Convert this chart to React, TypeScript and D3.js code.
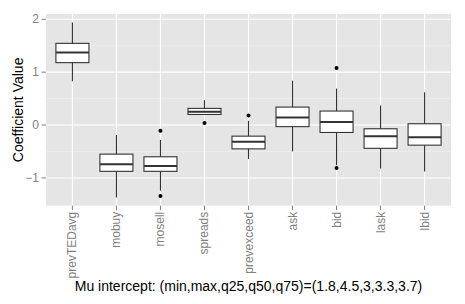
import * as d3 from 'd3';
import { useEffect, useRef } from 'react';

const CATEGORIES = ['prevTEDavg', 'mobuy', 'mosell', 'spreads', 'prevexceed', 'ask', 'bid', 'lask', 'lbid'];
const WHISKER_LO = [0.83, -1.37, -1.24, 0.2, -0.64, -0.5, -0.76, -0.82, -0.88];
const Q1 = [1.18, -0.875, -0.875, 0.2, -0.45, -0.03, -0.14, -0.44, -0.38];
const MEDIAN = [1.37, -0.74, -0.775, 0.25, -0.315, 0.145, 0.06, -0.21, -0.23];
const Q3 = [1.545, -0.55, -0.6, 0.315, -0.21, 0.34, 0.265, -0.07, 0.025];
const WHISKER_HI = [1.94, -0.19, -0.28, 0.47, 0.08, 0.84, 0.69, 0.37, 0.62];
const OUTLIERS: number[][] = [[], [], [-0.11, -1.34], [0.04], [0.18], [], [1.08, -0.81], [], []];

const Y_TICKS = [-1, 0, 1, 2];
const Y_MINOR = [-0.5, 0.5, 1.5];
const Y_LABEL = 'Coefficient Value';
const X_LABEL = 'Mu intercept: (min,max,q25,q50,q75)=(1.8,4.5,3,3.3,3.7)';

const W = 465;
const H = 304;
const PANEL = { left: 46, right: 451, top: 14, bottom: 205.7 };
const FONT = '"Liberation Sans", Arial, Helvetica, sans-serif';

export default function App() {
  const svgRef = useRef<SVGSVGElement>(null);

  useEffect(() => {
    if (!svgRef.current) return;
    const svg = d3.select(svgRef.current);
    svg.selectAll('*').remove();

    const x = d3.scalePoint<string>().domain(CATEGORIES).range([PANEL.left, PANEL.right]).padding(0.6);
    const y = d3.scaleLinear().domain([-1.525, 2.1]).range([PANEL.bottom, PANEL.top]);
    const boxW = x.step() * 0.75;

    // panel background
    svg.append('rect')
      .attr('x', PANEL.left).attr('y', PANEL.top)
      .attr('width', PANEL.right - PANEL.left).attr('height', PANEL.bottom - PANEL.top)
      .attr('fill', '#E5E5E5');

    // minor grid
    Y_MINOR.forEach(v => {
      svg.append('line')
        .attr('x1', PANEL.left).attr('x2', PANEL.right)
        .attr('y1', y(v)).attr('y2', y(v))
        .attr('stroke', '#F2F2F2').attr('stroke-width', 0.6);
    });
    // major grid
    Y_TICKS.forEach(v => {
      svg.append('line')
        .attr('x1', PANEL.left).attr('x2', PANEL.right)
        .attr('y1', y(v)).attr('y2', y(v))
        .attr('stroke', '#FFFFFF').attr('stroke-width', 1.1);
    });
    CATEGORIES.forEach(c => {
      svg.append('line')
        .attr('x1', x(c)!).attr('x2', x(c)!)
        .attr('y1', PANEL.top).attr('y2', PANEL.bottom)
        .attr('stroke', '#FFFFFF').attr('stroke-width', 1.1);
    });

    // boxes
    const g = svg.append('g');
    CATEGORIES.forEach((c, i) => {
      const cx = x(c)!;
      g.append('line')
        .attr('x1', cx).attr('x2', cx)
        .attr('y1', y(WHISKER_HI[i])).attr('y2', y(WHISKER_LO[i]))
        .attr('stroke', '#333333').attr('stroke-width', 1.1);
      g.append('rect')
        .attr('x', cx - boxW / 2).attr('width', boxW)
        .attr('y', y(Q3[i])).attr('height', y(Q1[i]) - y(Q3[i]))
        .attr('fill', '#FFFFFF').attr('stroke', '#333333').attr('stroke-width', 1.1);
      g.append('line')
        .attr('x1', cx - boxW / 2).attr('x2', cx + boxW / 2)
        .attr('y1', y(MEDIAN[i])).attr('y2', y(MEDIAN[i]))
        .attr('stroke', '#333333').attr('stroke-width', 2);
      OUTLIERS[i].forEach(o => {
        g.append('circle').attr('cx', cx).attr('cy', y(o)).attr('r', 2).attr('fill', '#000000');
      });
    });

    // y axis
    Y_TICKS.forEach(v => {
      svg.append('line')
        .attr('x1', PANEL.left - 4.5).attr('x2', PANEL.left)
        .attr('y1', y(v)).attr('y2', y(v))
        .attr('stroke', '#7F7F7F').attr('stroke-width', 1);
      svg.append('text')
        .attr('x', PANEL.left - 7).attr('y', y(v))
        .attr('text-anchor', 'end').attr('dominant-baseline', 'central')
        .attr('fill', '#7F7F7F').attr('font-size', 12).attr('font-family', FONT)
        .text(v < 0 ? `\u2212${Math.abs(v)}` : String(v));
    });

    // x axis
    CATEGORIES.forEach(c => {
      const cx = x(c)!;
      svg.append('line')
        .attr('x1', cx).attr('x2', cx)
        .attr('y1', PANEL.bottom).attr('y2', PANEL.bottom + 4.5)
        .attr('stroke', '#7F7F7F').attr('stroke-width', 1);
      svg.append('text')
        .attr('transform', `translate(${cx},${PANEL.bottom + 6}) rotate(-90)`)
        .attr('text-anchor', 'end').attr('dominant-baseline', 'central')
        .attr('fill', '#7F7F7F').attr('font-size', 12).attr('font-family', FONT)
        .text(c);
    });

    // axis titles
    svg.append('text')
      .attr('transform', `translate(18,${(PANEL.top + PANEL.bottom) / 2}) rotate(-90)`)
      .attr('text-anchor', 'middle').attr('dominant-baseline', 'central')
      .attr('fill', '#000000').attr('font-size', 14).attr('font-family', FONT)
      .text(Y_LABEL);
    svg.append('text')
      .attr('x', (PANEL.left + PANEL.right) / 2).attr('y', 291)
      .attr('text-anchor', 'middle')
      .attr('fill', '#000000').attr('font-size', 14).attr('font-family', FONT)
      .text(X_LABEL);
  }, []);

  return (
    <svg
      ref={svgRef}
      width={W}
      height={H}
      style={{ position: 'absolute', left: 0, top: 0, background: '#FFFFFF' }}
    />
  );
}
